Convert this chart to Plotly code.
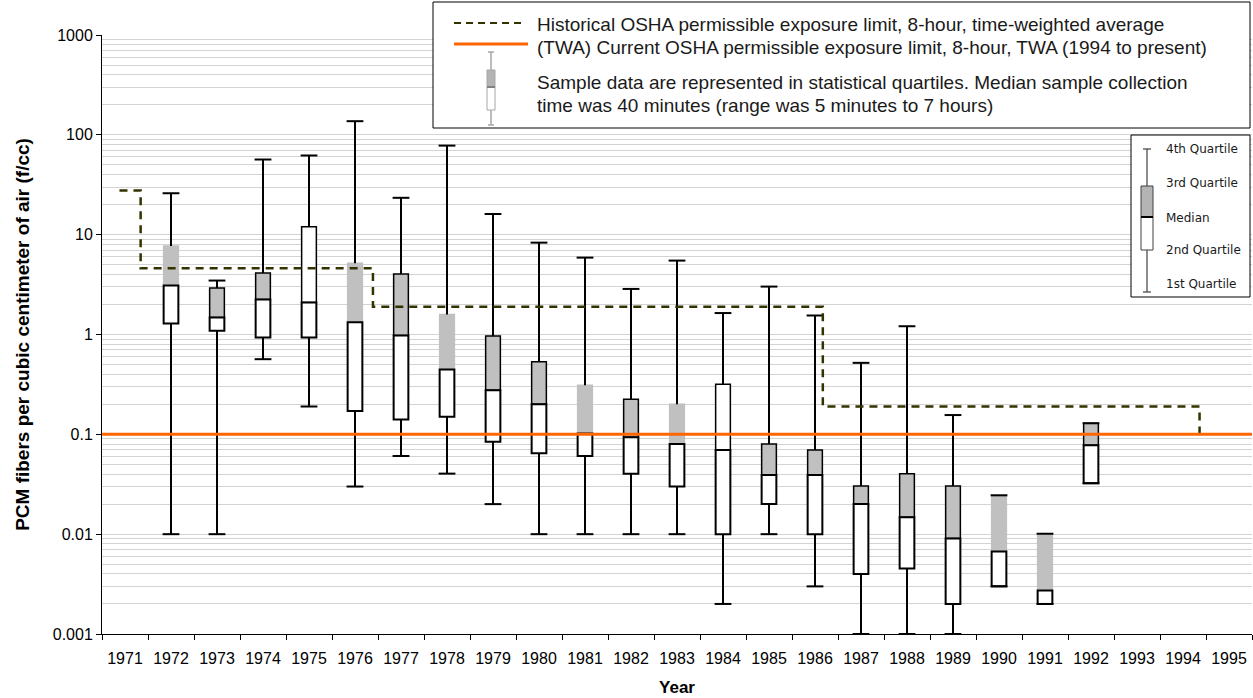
import plotly.graph_objects as go

# ---------------- data ----------------
ALL_YEARS = list(range(1971, 1996))
X_TICK_LABELS = [str(y) for y in ALL_YEARS]
Y_TICK_VALUES = [0.001, 0.01, 0.1, 1, 10, 100, 1000]
Y_TICK_LABELS = ["0.001", "0.01", "0.1", "1", "10", "100", "1000"]

YEARS = list(range(1972, 1993))
MINIMUM = [0.01, 0.01, 0.566, 0.19, 0.030, 0.0607, 0.0404, 0.02, 0.01, 0.01, 0.01,
           0.01, 0.002, 0.01, 0.003, 0.001, 0.001, 0.001, 0.003, 0.002, 0.0324]
Q1 = [1.29, 1.09, 0.933, 0.933, 0.171, 0.141, 0.15, 0.0844, 0.0646, 0.0607, 0.0404,
      0.030, 0.01, 0.0201, 0.01, 0.004, 0.00453, 0.002, 0.003, 0.002, 0.0324]
MEDIAN = [3.09, 1.48, 2.24, 2.09, 1.33, 0.977, 0.447, 0.277, 0.2, 0.102, 0.0933,
          0.08, 0.0697, 0.0392, 0.0392, 0.02, 0.0148, 0.00904, 0.0067, 0.00273, 0.0776]
Q3 = [7.7, 2.92, 4.13, 12.0, 5.16, 4.04, 1.585, 0.968, 0.532, 0.311, 0.225,
      0.2, 0.318, 0.08, 0.0697, 0.0304, 0.0404, 0.0304, 0.0245, 0.0101, 0.129]
MAXIMUM = [26, 3.47, 56.6, 62.1, 137, 23.4, 78, 16.1, 8.32, 5.89, 2.86,
           5.5, 1.64, 3.02, 1.55, 0.52, 1.21, 0.156, 0.0245, 0.0101, 0.129]

# historical OSHA PEL (step line): change points (fractional year) and levels
PEL_CHANGE_YEARS = [1970.88, 1971.34, 1976.39, 1986.17, 1994.36]
PEL_LEVELS = [27.7, 4.6, 1.9, 0.19, 0.1]
CURRENT_PEL = 0.1

# ---------------- styles ----------------
GREY = "#c0c0c0"
GRID = "#d3d3d3"
UPPER_FILL = [GREY, GREY, GREY, "white", GREY, GREY, GREY, GREY, GREY, GREY, GREY,
              GREY, "white", GREY, GREY, GREY, GREY, GREY, GREY, GREY, GREY]
UPPER_EDGE = [GREY, "black", "black", "black", GREY, "black", GREY, "black", "black", GREY, "black",
              GREY, "black", "black", "black", "black", "black", "black", GREY, GREY, "black"]
FONT = "'Liberation Sans', Arial, sans-serif"
BOX_W = 0.32

W, H = 1253, 698
ML, MR, MT, MB = 102, 1, 35, 64
PW, PH = W - ML - MR, H - MT - MB


def px(x):
    return (x - ML) / PW


def py(y):
    return (H - MB - y) / PH


fig = go.Figure()

# upper section (median -> Q3)
fig.add_trace(go.Bar(
    x=YEARS, base=MEDIAN, y=[q - m for q, m in zip(Q3, MEDIAN)], width=BOX_W,
    marker=dict(color=UPPER_FILL, line=dict(color=UPPER_EDGE, width=1.5)),
    showlegend=False, hoverinfo="skip"))
# lower section (Q1 -> median)
fig.add_trace(go.Bar(
    x=YEARS, base=Q1, y=[m - q for m, q in zip(MEDIAN, Q1)], width=BOX_W,
    marker=dict(color="white", line=dict(color="black", width=2)),
    showlegend=False, hoverinfo="skip"))

# whiskers
wx, wy = [], []
for yr, lo, q1, q3, hi in zip(YEARS, MINIMUM, Q1, Q3, MAXIMUM):
    wx += [yr, yr, None, yr, yr, None]
    wy += [q3, hi, None, lo, q1, None]
fig.add_trace(go.Scatter(x=wx, y=wy, mode="lines", line=dict(color="black", width=2),
                         showlegend=False, hoverinfo="skip", connectgaps=False))
fig.add_trace(go.Scatter(
    x=YEARS + YEARS, y=MAXIMUM + MINIMUM, mode="markers",
    marker=dict(symbol="line-ew", size=12, line=dict(color="black", width=2)),
    cliponaxis=False, showlegend=False, hoverinfo="skip"))

# historical PEL
fig.add_trace(go.Scatter(x=PEL_CHANGE_YEARS, y=PEL_LEVELS, mode="lines", line_shape="hv",
                         line=dict(color="#333300", width=2.5, dash="8px,6px"),
                         showlegend=False, hoverinfo="skip"))
# current PEL
fig.add_trace(go.Scatter(x=[ALL_YEARS[0] - 0.5, ALL_YEARS[-1] + 0.5], y=[CURRENT_PEL, CURRENT_PEL],
                         mode="lines", line=dict(color="#ff6600", width=3),
                         showlegend=False, hoverinfo="skip"))

minor_vals = [m * 10 ** e for e in range(-3, 3) for m in range(2, 10)]

fig.update_layout(
    width=W, height=H, margin=dict(l=ML, r=MR, t=MT, b=MB),
    paper_bgcolor="white", plot_bgcolor="white", barmode="overlay",
    font=dict(family=FONT, size=16, color="black"),
    xaxis=dict(range=[ALL_YEARS[0] - 0.5, ALL_YEARS[-1] + 0.5], tickmode="array",
               tickvals=ALL_YEARS, ticktext=X_TICK_LABELS, ticks="", showgrid=False,
               zeroline=False, showline=True, linecolor="black", linewidth=1,
               ticklabelstandoff=10,
               minor=dict(tickmode="linear", tick0=1970.5, dtick=1, ticks="outside",
                          ticklen=5, tickcolor="black", showgrid=False),
               title=dict(text="<b>Year</b>", font=dict(size=17), standoff=14)),
    yaxis=dict(type="log", range=[-3, 3], tickmode="array", tickvals=Y_TICK_VALUES,
               ticktext=Y_TICK_LABELS, ticks="outside", ticklen=5, tickcolor="black",
               showline=True, linecolor="black", linewidth=1, showgrid=True,
               gridcolor=GRID, gridwidth=1, zeroline=False,
               minor=dict(tickmode="array", tickvals=minor_vals, showgrid=True,
                          gridcolor=GRID, gridwidth=1, ticks=""),
               title=dict(text="<b>PCM fibers per cubic centimeter of air (f/cc)</b>",
                          font=dict(size=19), standoff=18)),
)

shapes = []
annos = []
# ---- top legend ----
LX = 433
shapes.append(dict(type="rect", xref="paper", yref="paper", x0=px(LX), x1=px(1250),
                   y0=py(128), y1=py(2), fillcolor="white", line=dict(color="black", width=1),
                   layer="above"))
shapes.append(dict(type="line", xref="paper", yref="paper", x0=px(454), x1=px(526),
                   y0=py(23), y1=py(23), line=dict(color="#333300", width=2, dash="7px,5px"),
                   layer="above"))
shapes.append(dict(type="line", xref="paper", yref="paper", x0=px(454), x1=px(528),
                   y0=py(44), y1=py(44), line=dict(color="#ff6600", width=3), layer="above"))
IC = 491
shapes += [
    dict(type="line", xref="paper", yref="paper", x0=px(IC), x1=px(IC), y0=py(52), y1=py(125),
         line=dict(color="#a6a6a6", width=1.5), layer="above"),
    dict(type="line", xref="paper", yref="paper", x0=px(IC - 3), x1=px(IC + 3), y0=py(52), y1=py(52),
         line=dict(color="#a6a6a6", width=1.5), layer="above"),
    dict(type="line", xref="paper", yref="paper", x0=px(IC - 3), x1=px(IC + 3), y0=py(125), y1=py(125),
         line=dict(color="#a6a6a6", width=1.5), layer="above"),
    dict(type="rect", xref="paper", yref="paper", x0=px(IC - 4), x1=px(IC + 4), y0=py(87), y1=py(70),
         fillcolor="#b4b4b4", line=dict(color="#a6a6a6", width=1), layer="above"),
    dict(type="rect", xref="paper", yref="paper", x0=px(IC - 4), x1=px(IC + 4), y0=py(110), y1=py(87),
         fillcolor="white", line=dict(color="#a6a6a6", width=1), layer="above"),
    dict(type="line", xref="paper", yref="paper", x0=px(IC - 4), x1=px(IC + 4), y0=py(87), y1=py(87),
         line=dict(color="#7f7f7f", width=2), layer="above"),
]
legend_lines = [
    (24, "Historical OSHA permissible exposure limit, 8-hour, time-weighted average"),
    (47, "(TWA) Current OSHA permissible exposure limit, 8-hour, TWA (1994 to present)"),
    (82, "Sample data are represented in statistical quartiles. Median sample collection"),
    (106, "time was 40 minutes (range was 5 minutes to 7 hours)"),
]
for yy, txt in legend_lines:
    annos.append(dict(xref="paper", yref="paper", x=px(535), y=py(yy), text=txt,
                      showarrow=False, xanchor="left", yanchor="middle",
                      font=dict(size=19, color="#1a1a1a")))

# ---- right legend ----
shapes.append(dict(type="rect", xref="paper", yref="paper", x0=px(1131), x1=px(1250),
                   y0=py(297), y1=py(135), fillcolor="white", line=dict(color="black", width=1),
                   layer="above"))
shapes += [
    dict(type="line", xref="paper", yref="paper", x0=px(1147), x1=px(1147), y0=py(149), y1=py(292),
         line=dict(color="#404040", width=1.2), layer="above"),
    dict(type="line", xref="paper", yref="paper", x0=px(1143), x1=px(1151), y0=py(149), y1=py(149),
         line=dict(color="#404040", width=1.2), layer="above"),
    dict(type="line", xref="paper", yref="paper", x0=px(1143), x1=px(1151), y0=py(292), y1=py(292),
         line=dict(color="#404040", width=1.2), layer="above"),
    dict(type="rect", xref="paper", yref="paper", x0=px(1141), x1=px(1153), y0=py(217), y1=py(186),
         fillcolor="#b4b4b4", line=dict(color="#404040", width=1), layer="above"),
    dict(type="rect", xref="paper", yref="paper", x0=px(1141), x1=px(1153), y0=py(250), y1=py(217),
         fillcolor="white", line=dict(color="#404040", width=1), layer="above"),
    dict(type="line", xref="paper", yref="paper", x0=px(1141), x1=px(1153), y0=py(217), y1=py(217),
         line=dict(color="black", width=2), layer="above"),
]
for yy, txt in [(149, "4th Quartile"), (183, "3rd Quartile"), (218, "Median"),
                (250, "2nd Quartile"), (284, "1st Quartile")]:
    annos.append(dict(xref="paper", yref="paper", x=px(1164), y=py(yy), text=txt,
                      showarrow=False, xanchor="left", yanchor="middle",
                      font=dict(size=12, color="#1a1a1a", family="'DejaVu Sans', sans-serif")))

fig.update_layout(shapes=shapes, annotations=annos)
fig.write_html("out.html", config={"displayModeBar": False},
               post_script="document.body.style.margin='0px';")
